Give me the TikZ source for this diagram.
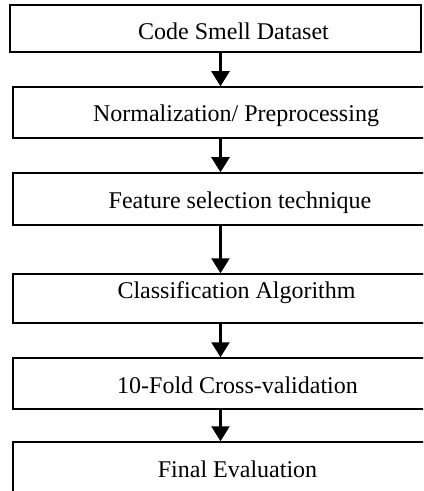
\documentclass[tikz,border=0pt]{standalone}
\usepackage{fontspec}
\setmainfont{Liberation Serif}
\usetikzlibrary{arrows.meta}

\begin{document}
\begin{tikzpicture}[x=0.5pt,y=-0.5pt,
box/.style={draw,line width=0.75pt,minimum width=224pt,inner sep=0pt},
lbl/.style={anchor=base,inner sep=0pt,font=\fontsize{12pt}{14pt}\selectfont},
arrow/.style={-{Triangle[length=7.5pt,width=9pt]},line width=1.2pt}
]
\useasboundingbox (0,0) rectangle (423,491);
\clip (0,0) rectangle (423,491);
% boxes
\node[box,minimum width=205.5pt,minimum height=23.5pt] (dataset) at (215.5,28.5) {};
\node[box,minimum height=25.5pt] (norm) at (237,112.5) {};
\node[box,minimum height=26pt] (feature) at (237,199) {};
\node[box,minimum height=24.5pt] (classify) at (237,298.5) {};
\node[box,minimum height=25.5pt] (kfold) at (237,383.5) {};
\node[box,minimum height=25.5pt] (final) at (237,467.5) {};
% texts
\node[lbl] (dataset-t) at (233.5,40) {Code Smell Dataset};
\node[lbl] (norm-t) at (236,122) {Normalization/ Preprocessing};
\node[lbl] (feature-t) at (240,209) {Feature selection technique};
\node[lbl] (classify-t) at (236.5,298) {Classification Algorithm};
\node[lbl] (kfold-t) at (237.5,393) {10-Fold Cross-validation};
\node[lbl] (final-t) at (237.5,477) {Final Evaluation};
% arrows
\coordinate (ax) at (220.5,0);
\draw[arrow] (dataset.south -| ax) -- (norm.north -| ax);
\draw[arrow] (norm.south -| ax) -- (feature.north -| ax);
\draw[arrow] (feature.south -| ax) -- (classify.north -| ax);
\draw[arrow] (classify.south -| ax) -- (kfold.north -| ax);
\draw[arrow] (kfold.south -| ax) -- (final.north -| ax);
\end{tikzpicture}
\end{document}
